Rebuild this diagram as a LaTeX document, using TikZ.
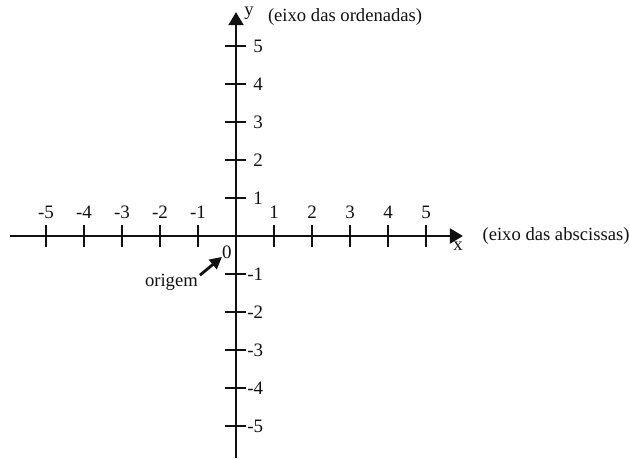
\documentclass[tikz,border=0pt]{standalone}
\usepackage{fontspec}
\setmainfont{Liberation Serif}
\usetikzlibrary{arrows.meta,positioning}
\definecolor{AxInk}{HTML}{111111}
\tikzset{
  axis/.style={-{Triangle[length=2.6mm,width=3mm]},AxInk,line width=1.2pt},
  pointer/.style={-{Triangle[length=2.4mm,width=2.4mm]},AxInk,line width=1.6pt},
  tickmark/.style={AxInk,line width=1.5pt},
  ticklabel/.style={text=AxInk,font=\fontsize{10.8}{12}\selectfont,inner sep=0pt},
  axlabel/.style={text=AxInk,font=\fontsize{10.6}{12}\selectfont,inner sep=0pt,align=center},
}
\begin{document}
\begin{tikzpicture}[x=.76cm,y=.76cm]
    \useasboundingbox (-6.21,-5.89) rectangle (10.34,6.21);

    % axes
    \coordinate (xstart) at (-5.95,0);
    \coordinate (xend) at (5.97,0);
    \coordinate (ystart) at (0,-5.84);
    \coordinate (yend) at (0,5.89);
    \draw[axis] (xstart) -- (xend);
    \draw[axis] (ystart) -- (yend);

    % ticks and numbers
    \foreach \k in {-5,...,-1,1,2,...,5} {
      \draw[tickmark] (\k,-.28) -- (\k,.28);
      \draw[tickmark] (-.28,\k) -- (.26,\k);
      \node[ticklabel] (xl\k) at (\k,.63) {\k};
    }
    \foreach \k in {1,...,5}
      \node[ticklabel,anchor=west] (yl\k) at (.45,\k) {\k};
    \foreach \k in {-1,...,-5}
      \node[ticklabel,anchor=west] (yl\k) at (.29,\k) {\k};

    \node[ticklabel] (zero) at (-.24,-.42) {0};
    \node[axlabel] (ylet) at (.34,5.85) {y};
    \node[axlabel] (yname) at (2.87,5.76) {(eixo das ordenadas)};
    \node[axlabel] (xlet) at (5.84,-.26) {x};
    \node[axlabel] (xname) at (8.42,0) {(eixo das abscissas)};

    % origin pointer
    \node[axlabel] (origem) at (-1.70,-1.21) {origem};
    \coordinate (origintip) at (-.37,-.55);
    \draw[pointer] ([xshift=1pt,yshift=-1pt]origem.north east) -- (origintip);
  \end{tikzpicture}
\end{document}
